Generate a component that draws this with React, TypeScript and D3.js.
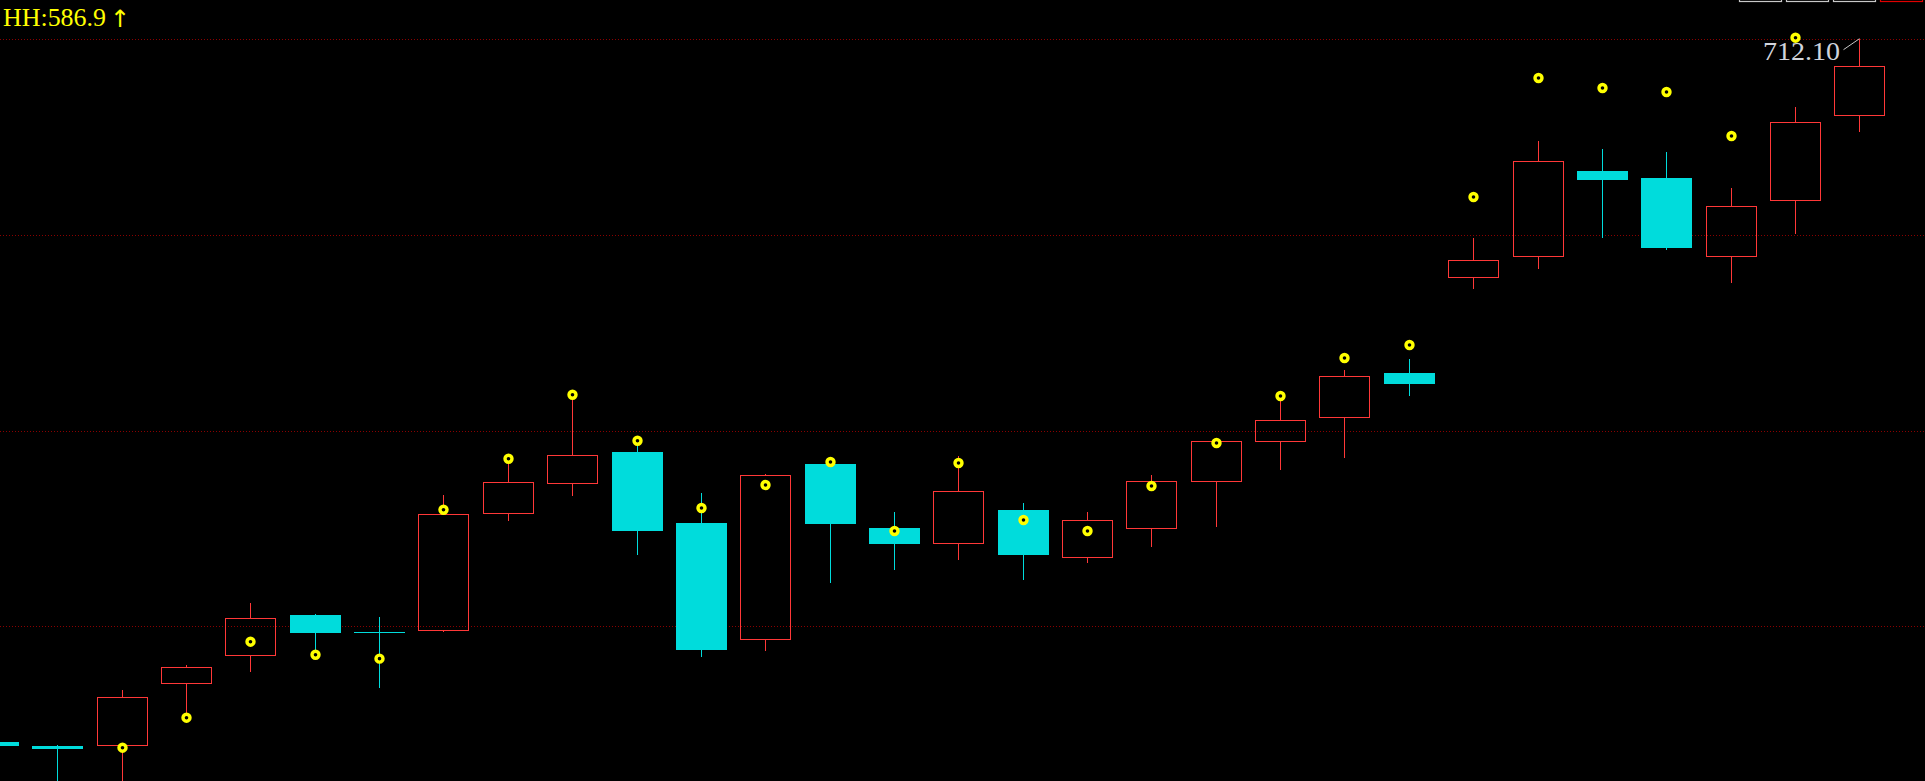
import React from "react";
import * as d3 from "d3";

const W = 1925;
const H = 781;

// bar index labels (dates unknown; sequential trading sessions)
const bars = d3.range(30).map((i) => `K${i + 1}`);

const opens = [568.37, 567.55, 567.7, 580.37, 586.09, 594.32, 590.85, 591.2, 615.11, 621.24, 627.63, 613.12, 589.36, 625.18, 612.1, 608.98, 615.78, 606.24, 612.17, 621.65, 629.94, 634.85, 643.78, 663.46, 667.75, 685.06, 683.63, 667.75, 679.19, 696.56];
const closes = [567.55, 566.94, 577.51, 583.64, 593.65, 590.71, 590.65, 614.9, 621.44, 626.96, 611.55, 587.23, 622.87, 612.92, 608.9, 619.6, 606.65, 613.68, 621.65, 629.82, 634.11, 643.1, 641.53, 666.81, 687.04, 683.22, 669.32, 677.84, 695.07, 706.45];
const highs = [568.37, 567.76, 579.0, 584.11, 596.78, 594.53, 593.91, 618.85, 627.22, 638.26, 629.06, 619.26, 623.08, 626.67, 615.37, 626.82, 617.21, 615.37, 622.93, 629.88, 638.26, 644.39, 646.64, 671.3, 691.19, 689.55, 688.94, 681.58, 698.13, 712.1];
const lows = [567.55, 556.0, 556.0, 573.89, 582.74, 586.76, 579.47, 590.91, 613.59, 618.7, 606.65, 585.8, 587.03, 600.93, 603.52, 605.63, 601.48, 605.01, 608.22, 612.37, 624.02, 626.47, 639.08, 661.0, 665.09, 671.43, 668.97, 662.23, 672.18, 693.09];
const dots: (number | null)[] = [null, null, 567.21, 573.34, 588.87, 586.21, 585.4, 615.84, 626.26, 639.34, 629.94, 616.19, 620.89, 625.59, 611.49, 625.39, 613.74, 611.49, 620.68, 629.47, 639.08, 646.84, 649.5, 679.74, 704.06, 702.02, 701.2, 692.21, 712.3, null];

const gridValues = [712, 672, 632, 592];
const hhLabel = "HH:586.9";
const maxLabel = "712.10";

const UP = "#ff3838";
const DOWN = "#00dcdc";
const DOT = "#ffff00";

export default function App() {
  const x = d3.scalePoint<string>().domain(bars).range([-7.06, 1859.3]);
  const y = d3.scaleLinear().domain([560.4, 720.0]).range([H, 0]);
  const half = 25.5;

  const candles = bars.map((b, i) => {
    const cx = Math.round(x(b) as number) + 0.5;
    const o = opens[i];
    const c = closes[i];
    const up = c > o;
    const yTop = Math.round(y(Math.max(o, c)));
    const yBot = Math.round(y(Math.min(o, c)));
    const yH = Math.round(y(highs[i]));
    const yL = Math.round(y(lows[i]));
    const left = cx - half;
    if (up) {
      return (
        <g key={b} shapeRendering="crispEdges">
          {yH < yTop && <line x1={cx} x2={cx} y1={yH} y2={yTop} stroke={UP} strokeWidth={1} />}
          {yL > yBot && <line x1={cx} x2={cx} y1={yBot + 1} y2={yL} stroke={UP} strokeWidth={1} />}
          <rect x={left + 0.5} y={yTop + 0.5} width={2 * half - 1} height={Math.max(1, yBot - yTop)} fill="none" stroke={UP} strokeWidth={1} />
        </g>
      );
    }
    return (
      <g key={b} shapeRendering="crispEdges">
        <line x1={cx} x2={cx} y1={yH} y2={yL} stroke={DOWN} strokeWidth={1} />
        <rect x={left} y={yTop} width={2 * half} height={Math.max(1, yBot - yTop)} fill={DOWN} />
      </g>
    );
  });

  const rings = bars.map((b, i) => {
    const v = dots[i];
    if (v == null) return null;
    const cx = Math.round(x(b) as number) + 0.5;
    return <circle key={"d" + b} cx={cx} cy={y(v)} r={3.5} fill="#000" stroke={DOT} strokeWidth={3.4} />;
  });

  const lastIdx = bars.length - 1;
  const lastX = Math.round(x(bars[lastIdx]) as number) + 0.5;
  const lastHY = y(highs[lastIdx]);

  const topBoxes = [
    { x: 1739.5, c: "#c8c8c8" },
    { x: 1786.5, c: "#c8c8c8" },
    { x: 1833.5, c: "#c8c8c8" },
    { x: 1880.5, c: "#e00000" },
  ];

  return (
    <svg width={W} height={H} style={{ position: "absolute", left: 0, top: 0, display: "block", background: "#000" }}>
      <rect x={0} y={0} width={W} height={H} fill="#000" />
      {gridValues.map((g) => (
        <line key={g} x1={0} x2={W} y1={Math.round(y(g)) + 0.5} y2={Math.round(y(g)) + 0.5} stroke="#8a0000" strokeWidth={1} strokeDasharray="1 2" shapeRendering="crispEdges" />
      ))}
      {candles}
      {rings}
      <text x={3} y={26} fill={DOT} fontFamily="'Liberation Serif', serif" fontSize={25} textLength={103} lengthAdjust="spacingAndGlyphs">
        {hhLabel}
      </text>
      <text x={110} y={27} fill={DOT} fontFamily="'DejaVu Sans', sans-serif" fontSize={24}>
        ↑
      </text>
      <text x={1763} y={60} fill="#d0d4dc" fontFamily="'Liberation Serif', serif" fontSize={25} textLength={77} lengthAdjust="spacingAndGlyphs">
        {maxLabel}
      </text>
      <line x1={lastX - 16} y1={lastHY + 11} x2={lastX} y2={lastHY} stroke="#c8c8c8" strokeWidth={1} />
      {topBoxes.map((b) => (
        <rect key={b.x} x={b.x} y={-10} width={42} height={11.5} fill="none" stroke={b.c} strokeWidth={1.2} />
      ))}
    </svg>
  );
}
